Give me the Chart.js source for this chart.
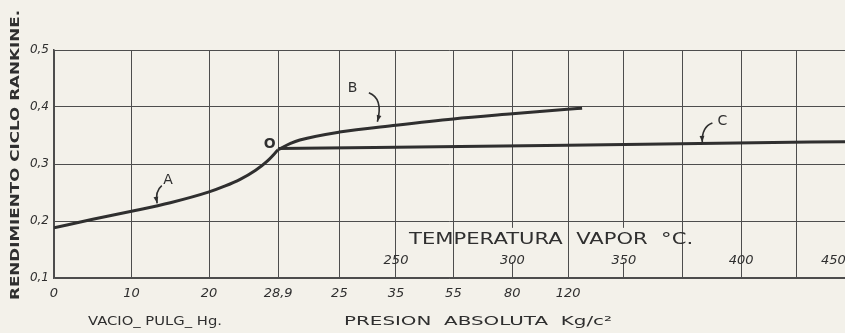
<!DOCTYPE html>
<html>
<head>
<meta charset="utf-8">
<script src="https://cdn.jsdelivr.net/npm/chart.js@4.4.1/dist/chart.umd.min.js"></script>
<style>
  html, body { margin: 0; padding: 0; background: #f3f1ea; }
  canvas { display: block; }
</style>
</head>
<body>
<canvas id="c" width="845" height="333"></canvas>
<script>
// ---- data ----
const xDivisions = [0, 10, 20, 28.9, 36.8, 44.1, 51.5, 59.1, 66.3, 73.5, 81, 88.6, 95.7];
const xDivisionLabels = ["0", "10", "20", "28,9", "25", "35", "55", "80", "120", "", "", "", ""];
const yTicks = [0.1, 0.2, 0.3, 0.4, 0.5];
const yTickLabels = ["0,1", "0,2", "0,3", "0,4", "0,5"];
const tempPositions = [44.1, 59.1, 73.5, 88.6, 100.5];
const tempLabels = ["250", "300", "350", "400", "450"];

const curveAx = [0, 5, 10, 15, 20, 22, 24, 26, 27.5, 28.9];
const curveAy = [0.188, 0.203, 0.217, 0.232, 0.251, 0.261, 0.273, 0.289, 0.305, 0.325];
const curveBx = [28.9, 30.5, 31.7, 36.8, 44.1, 51.5, 59.1, 66.2, 68.1];
const curveBy = [0.325, 0.336, 0.342, 0.356, 0.368, 0.379, 0.388, 0.396, 0.398];
const curveCx = [28.9, 66.2, 88, 102];
const curveCy = [0.327, 0.333, 0.337, 0.339];

const INK = '#2f2f2f';
const GRID = '#4d4d4d';
const BG = '#f3f1ea';

function pts(xs, ys) { return xs.map((x, i) => ({ x: x, y: ys[i] })); }

function fitText(ctx, text, cx, cy, targetW, font, rot) {
  ctx.save();
  ctx.font = font;
  ctx.textAlign = 'center';
  ctx.textBaseline = 'middle';
  const w = ctx.measureText(text).width;
  ctx.translate(cx, cy);
  if (rot) ctx.rotate(rot);
  const s = targetW ? targetW / w : 1;
  ctx.scale(s, 1);
  ctx.fillText(text, 0, 0);
  ctx.restore();
}

const decor = {
  id: 'decor',
  beforeDraw(chart) {
    const ctx = chart.ctx;
    ctx.save();
    ctx.fillStyle = BG;
    ctx.fillRect(0, 0, chart.width, chart.height);
    ctx.restore();
  },
  beforeDatasetsDraw(chart) {
    // gridlines interrupted behind the temperature lettering
    const ctx = chart.ctx;
    const xs = chart.scales.x, ys = chart.scales.y;
    ctx.save();
    ctx.fillStyle = BG;
    [59.1, 73.5].forEach(v => {
      const x = xs.getPixelForValue(v);
      const y1 = ys.getPixelForValue(0.188), y2 = ys.getPixelForValue(0.128);
      ctx.fillRect(x - 2, y1, 4, y2 - y1);
    });
    ctx.restore();
  },
  afterDatasetsDraw(chart) {
    const ctx = chart.ctx;
    const xs = chart.scales.x, ys = chart.scales.y;
    const px = v => xs.getPixelForValue(v), py = v => ys.getPixelForValue(v);
    ctx.save();
    ctx.fillStyle = INK;
    ctx.strokeStyle = INK;
    // temperature scale
    fitText(ctx, 'TEMPERATURA  VAPOR  °C.', px(64.1), py(0.167), 284, '15px "DejaVu Sans"');
    tempLabels.forEach((t, i) => {
      fitText(ctx, t, px(tempPositions[i]), py(0.13), 0, 'italic 13px "DejaVu Sans"');
    });
    // curve labels
    const labs = [
      { t: 'A', x: 14.7, y: 0.272 },
      { t: 'B', x: 38.5, y: 0.433 },
      { t: 'C', x: 86.2, y: 0.374 },
      { t: 'O', x: 27.8, y: 0.334 }
    ];
    labs.forEach(l => fitText(ctx, l.t, px(l.x), py(l.y), 0, (l.t === 'O' ? 'bold 14px' : '14px') + ' "DejaVu Sans"'));
    // arrows
    const arrows = [
      { s: [13.9, 0.262], c: [13.0, 0.252], e: [13.3, 0.231] },
      { s: [40.6, 0.425], c: [42.5, 0.415], e: [41.7, 0.374] },
      { s: [84.9, 0.372], c: [83.5, 0.365], e: [83.6, 0.338] }
    ];
    ctx.lineWidth = 1.6;
    arrows.forEach(a => {
      const sx = px(a.s[0]), sy = py(a.s[1]);
      const cx = px(a.c[0]), cy = py(a.c[1]);
      const ex = px(a.e[0]), ey = py(a.e[1]);
      ctx.beginPath();
      ctx.moveTo(sx, sy);
      ctx.quadraticCurveTo(cx, cy, ex, ey);
      ctx.stroke();
      const ang = Math.atan2(ey - cy, ex - cx);
      ctx.beginPath();
      ctx.moveTo(ex, ey);
      ctx.lineTo(ex - 7 * Math.cos(ang - 0.35), ey - 7 * Math.sin(ang - 0.35));
      ctx.lineTo(ex - 7 * Math.cos(ang + 0.35), ey - 7 * Math.sin(ang + 0.35));
      ctx.closePath();
      ctx.fill();
    });
    ctx.restore();
  },
  afterDraw(chart) {
    const ctx = chart.ctx;
    ctx.save();
    ctx.fillStyle = INK;
    fitText(ctx, 'RENDIMIENTO CICLO RANKINE.', 16, 155, 290, 'bold 13px "DejaVu Sans"', -Math.PI / 2);
    fitText(ctx, 'VACIO_ PULG_ Hg.', 155, 322, 134, '13px "DejaVu Sans"');
    fitText(ctx, 'PRESION  ABSOLUTA  Kg/c²', 478, 322, 268, '13px "DejaVu Sans"');
    ctx.restore();
  }
};

new Chart(document.getElementById('c'), {
  type: 'line',
  data: {
    datasets: [
      { label: 'A', data: pts(curveAx, curveAy) },
      { label: 'B', data: pts(curveBx, curveBy) },
      { label: 'C', data: pts(curveCx, curveCy) }
    ]
  },
  options: {
    responsive: false,
    animation: false,
    devicePixelRatio: 1,
    layout: { padding: { left: 0, right: 0, top: 50, bottom: 0 } },
    elements: {
      line: { borderColor: INK, borderWidth: 3, cubicInterpolationMode: 'monotone', fill: false },
      point: { radius: 0 }
    },
    plugins: { legend: { display: false }, tooltip: { enabled: false } },
    scales: {
      x: {
        type: 'linear', min: 0, max: 102,
        afterBuildTicks: s => { s.ticks = xDivisions.map(v => ({ value: v })); },
        afterFit: s => { s.height = 55; },
        grid: { color: GRID, lineWidth: 1, drawTicks: false },
        border: { color: GRID, width: 1.5 },
        ticks: {
          autoSkip: false, maxRotation: 0, padding: 8, color: INK,
          font: { family: 'DejaVu Sans', size: 13, style: 'italic' },
          callback: (v, i) => xDivisionLabels[i]
        }
      },
      y: {
        type: 'linear', min: 0.1, max: 0.5,
        afterBuildTicks: s => { s.ticks = yTicks.map(v => ({ value: v })); },
        afterFit: s => { s.width = 54; },
        grid: { color: GRID, lineWidth: 1, drawTicks: false },
        border: { color: GRID, width: 1.5 },
        ticks: {
          padding: 5, color: INK,
          font: { family: 'DejaVu Sans', size: 12, style: 'italic' },
          callback: (v, i) => yTickLabels[i]
        }
      }
    }
  },
  plugins: [decor]
});
</script>
</body>
</html>
